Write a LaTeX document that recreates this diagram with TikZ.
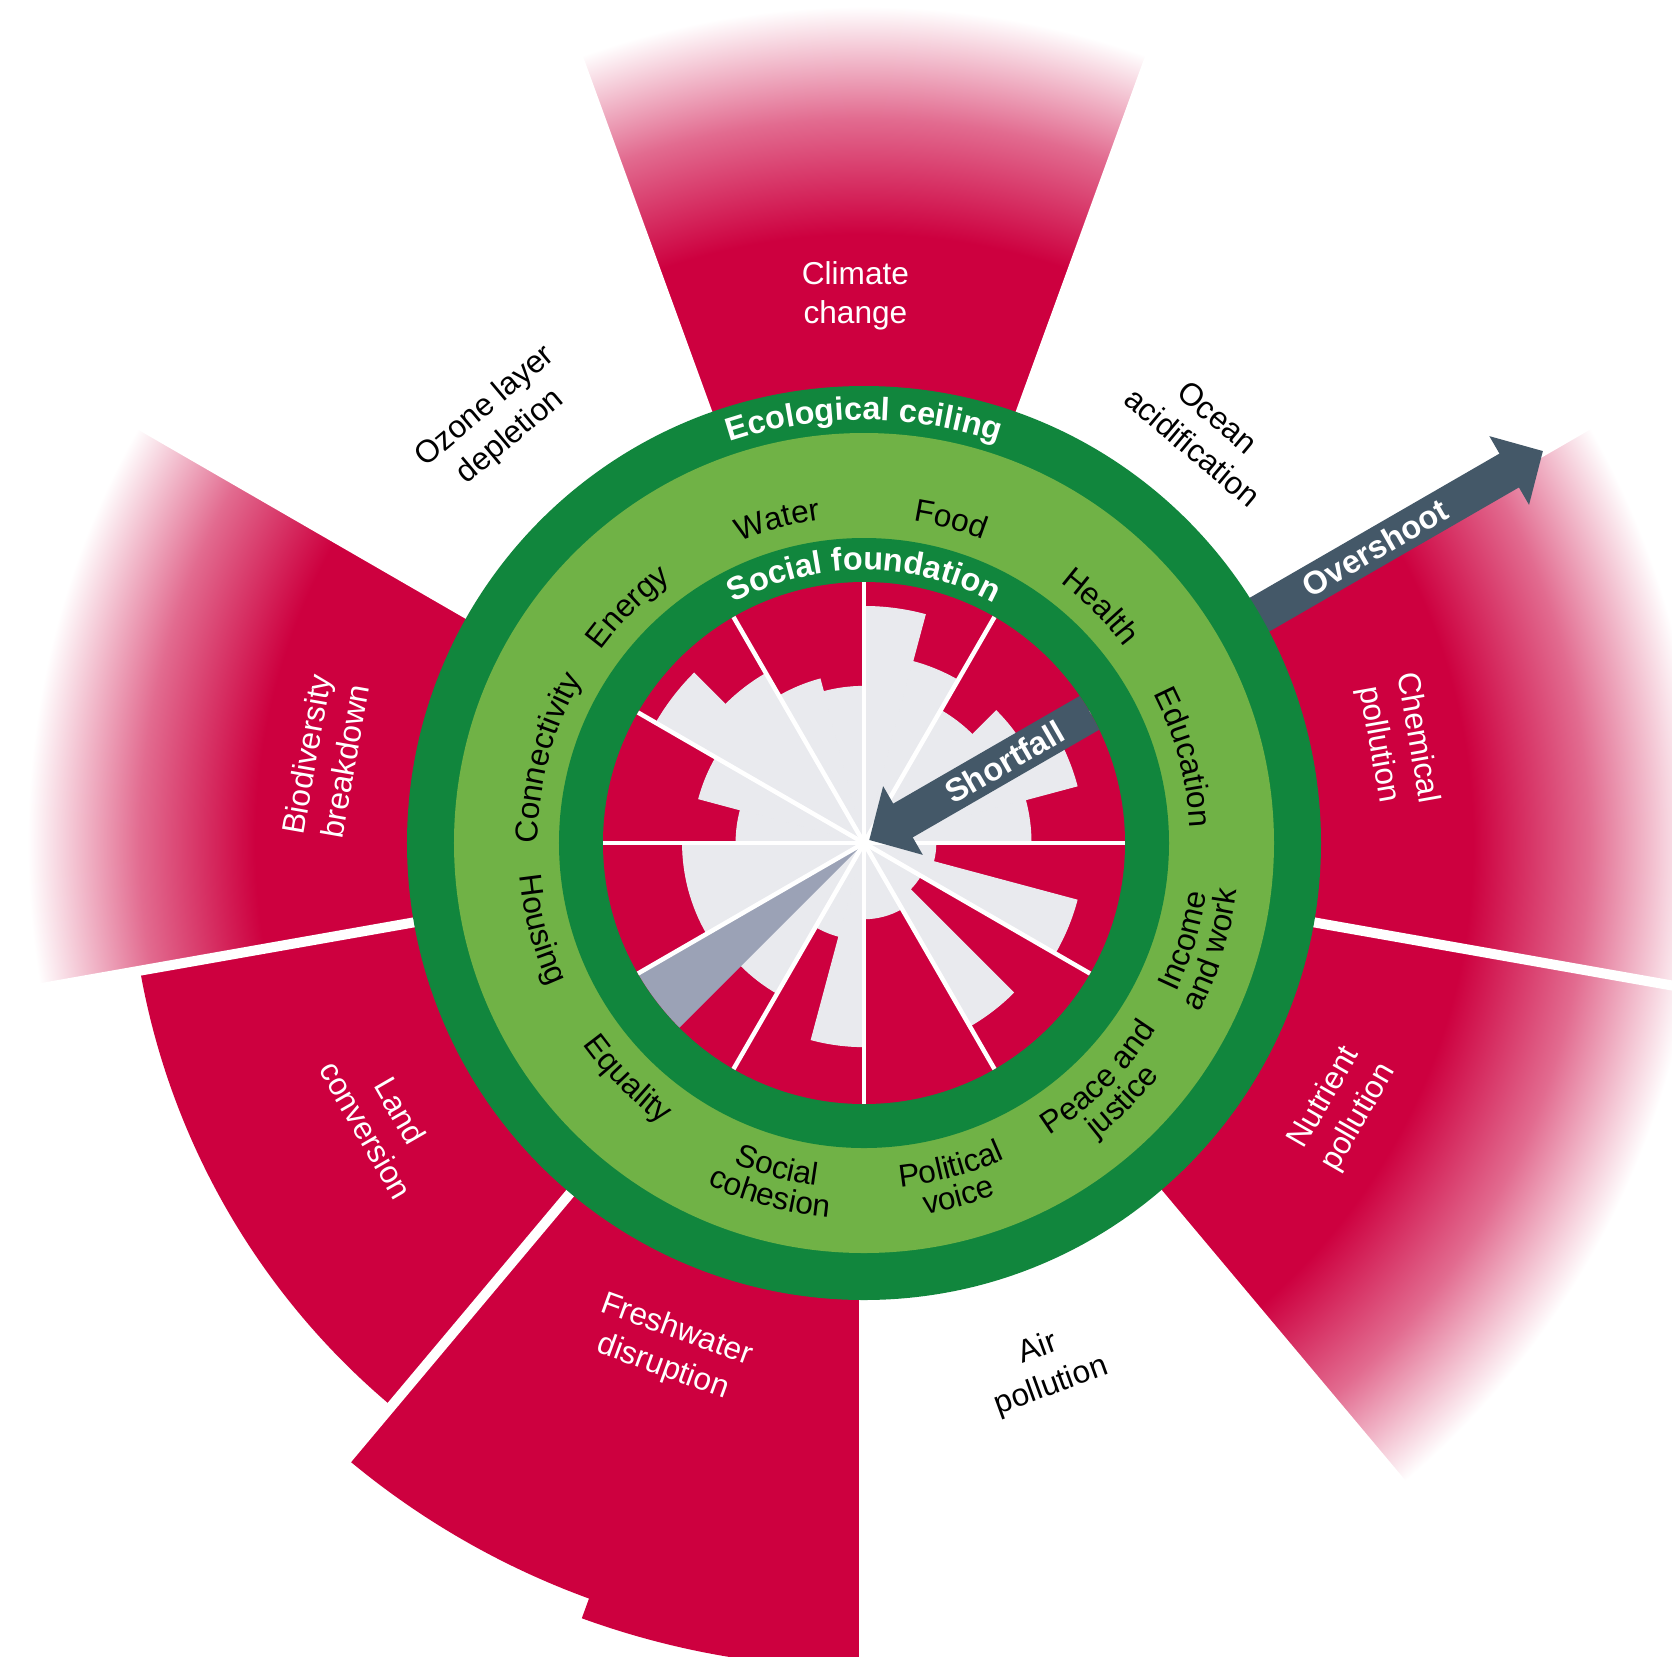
\documentclass[tikz,border=0pt]{standalone}
\usepackage{fontspec}
\setmainfont{Liberation Sans}
\usetikzlibrary{arrows.meta,decorations.text}
\definecolor{dnred}{RGB}{205,0,63}
\definecolor{dkgreen}{RGB}{17,134,61}
\definecolor{ltgreen}{RGB}{112,178,70}
\definecolor{slate}{RGB}{68,88,104}
\definecolor{pale}{RGB}{233,234,238}
\definecolor{bluegrey}{RGB}{155,162,182}
\colorlet{midred}{dnred!58!white}
\pgfdeclareradialshading{fadered}{\pgfpointorigin}{color(0bp)=(dnred); color(17.9bp)=(dnred); color(21.3bp)=(midred); color(24.6bp)=(white); color(50bp)=(white)}
\newcommand{\lblfont}{\fontsize{9}{11}\selectfont}
\newcommand{\ttlfont}{\fontsize{9.2}{11}\selectfont\bfseries}

\begin{document}
\begin{tikzpicture}[pb/.style={align=center, font=\fontsize{9}{11.2}\selectfont},
    ar/.style={slate, line width=3.9mm, -{Triangle[width=7.7mm 0, length=3.9mm 0]}},
    sep/.style={white, line width=1mm}, spoke/.style={white, line width=0.45mm},
    ring/.style={decorate, decoration={text along path, text align=center}}]
  \useasboundingbox (-8.64,-8.13) rectangle (8.08,8.43);
  \fill[white] (-8.64,-8.13) rectangle (8.08,8.43);
  \clip (-8.64,-8.13) rectangle (8.08,8.43);

  \foreach \a in {70,-10,-50,150}{
    \begin{scope}
      \clip (0,0) -- (\a:9) arc[start angle=\a, delta angle=40, radius=9] -- cycle;
      \shade[shading=fadered] (0,0) circle (8.5);
    \end{scope}}
  \fill[dnred] (0,0) -- (190:7.35) arc[start angle=190, end angle=230, radius=7.35] -- cycle;
  \fill[dnred] (0,0) -- (230:8.04) arc[start angle=230, end angle=250, radius=8.04]
    -- (250:8.25) arc[start angle=250, end angle=270, radius=8.25] -- cycle;
  \foreach \a in {70,110,...,390} \draw[sep] (\a:4.4) -- (\a:9);

  \coordinate (os1) at (30:4.4);
  \coordinate (os2) at (30:7.84);
  \draw[ar] (os1) -- (os2);
  \node[text=white, font=\ttlfont, rotate=30] (over) at (30:5.9) {Overshoot};

  \fill[dkgreen] (0,0) circle (4.57);
  \fill[ltgreen] (0,0) circle (4.10);
  \fill[dkgreen] (0,0) circle (3.05);
  \fill[dnred] (0,0) circle (2.61);

  \foreach \a/\b/\r in {75/90/2.365, 60/75/1.879, 45/60/1.532, 30/45/1.869, 15/30/2.205, 0/15/1.670,
      -15/0/0.718, -30/-15/2.205, -45/-30/0.653, -60/-45/2.114, -90/-60/0.757, -105/-90/2.036,
      -120/-105/0.966, -135/-120/1.736, -180/-150/1.814, 165/180/1.279, 150/165/1.710,
      135/150/2.401, 120/135/1.958, 105/120/1.697, 90/105/1.566}
    \filldraw[pale, line width=0.3pt] (0,0) -- (\a:\r) arc[start angle=\a, end angle=\b, radius=\r] -- cycle;
  \fill[bluegrey] (0,0) -- (-150:2.61) arc[start angle=-150, end angle=-135, radius=2.61] -- cycle;
  \foreach \a in {0,30,...,330} \draw[spoke] (0,0) -- (\a:2.61);

  \coordinate (sf1) at (30:2.8);
  \coordinate (sf2) at (30:0.06);
  \begin{scope}
    \clip (0,0) circle (2.61);
    \draw[ar] (sf1) -- (sf2);
  \end{scope}
  \node[text=white, font=\ttlfont, rotate=30] (short) at (30:1.62) {Shortfall};

  \path[ring, decoration={text color=white, text={|\ttlfont|Ecological ceiling}}] (130:4.23) arc[start angle=130, end angle=50, radius=4.23];
  \path[ring, decoration={text color=white, text={|\ttlfont|Social foundation}}] (140:2.73) arc[start angle=140, end angle=40, radius=2.73];

  \path[ring, decoration={text={|\lblfont|Education}}] (45:3.26) arc[start angle=45, end angle=-15, radius=3.26];
  \path[ring, decoration={text={|\lblfont|Health}}] (75:3.26) arc[start angle=75, end angle=15, radius=3.26];
  \path[ring, decoration={text={|\lblfont|Food}}] (105:3.26) arc[start angle=105, end angle=45, radius=3.26];
  \path[ring, decoration={text={|\lblfont|Water}}] (135:3.26) arc[start angle=135, end angle=75, radius=3.26];
  \path[ring, decoration={text={|\lblfont|Energy}}] (165:3.26) arc[start angle=165, end angle=105, radius=3.26];
  \path[ring, decoration={text={|\lblfont|Connectivity}}] (195:3.26) arc[start angle=195, end angle=135, radius=3.26];
  \path[ring, decoration={text={|\lblfont|Housing}}] (165:3.46) arc[start angle=165, end angle=225, radius=3.46];
  \path[ring, decoration={text={|\lblfont|Equality}}] (195:3.46) arc[start angle=195, end angle=255, radius=3.46];
  \path[ring, decoration={text={|\lblfont|Social}}] (225:3.46) arc[start angle=225, end angle=285, radius=3.46];
  \path[ring, decoration={text={|\lblfont|cohesion}}] (225:3.76) arc[start angle=225, end angle=285, radius=3.76];
  \path[ring, decoration={text={|\lblfont|Political}}] (255:3.46) arc[start angle=255, end angle=315, radius=3.46];
  \path[ring, decoration={text={|\lblfont|voice}}] (255:3.76) arc[start angle=255, end angle=315, radius=3.76];
  \path[ring, decoration={text={|\lblfont|Peace and}}] (285:3.46) arc[start angle=285, end angle=345, radius=3.46];
  \path[ring, decoration={text={|\lblfont|justice}}] (285:3.76) arc[start angle=285, end angle=345, radius=3.76];
  \path[ring, decoration={text={|\lblfont|Income}}] (313:3.46) arc[start angle=313, end angle=373, radius=3.46];
  \path[ring, decoration={text={|\lblfont|and work}}] (313:3.76) arc[start angle=313, end angle=373, radius=3.76];

  \node[pb, text=white] (climate) at (90.9:5.47) {Climate\\change};
  \node[pb, rotate=-40] (ocean) at (50.3:5.34) {Ocean\\acidification};
  \node[pb, text=white, rotate=-80] (chemical) at (10.8:5.43) {Chemical\\pollution};
  \node[pb, text=white, rotate=60] (nutrient) at (-29:5.46) {Nutrient\\pollution};
  \node[pb, rotate=20] (air) at (-71:5.55) {Air\\pollution};
  \node[pb, text=white, rotate=-20] (fresh) at (-111:5.42) {Freshwater\\disruption};
  \node[pb, text=white, rotate=-60] (land) at (-150:5.55) {Land\\conversion};
  \node[pb, text=white, rotate=80] (biodiv) at (171:5.45) {Biodiversity\\breakdown};
  \node[pb, rotate=40] (ozone) at (131:5.58) {Ozone layer\\depletion};
\end{tikzpicture}
\end{document}
